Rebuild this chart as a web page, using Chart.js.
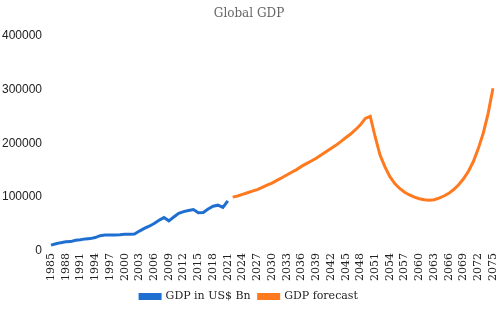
<!DOCTYPE html>
<html>
<head>
  <title>Global GDP</title>
  <script src="https://cdn.jsdelivr.net/npm/chart.js"></script>
  <style>
    body {
      margin: 0;
      background-color: #fff;
    }
    .chart-box {
      width: 498px;
      height: 309px;
    }
  </style>
</head>
<body>
  <div class="chart-box">
    <canvas id="gdpChart"></canvas>
  </div>

  <script>
    const firstYear = 1985;
    const lastYear = 2075;

    // GDP in US$ Bn, 1985 - 2021
    const gdpActual = [
      11000, 13500, 15500, 17000, 17500, 20000, 21000, 22500, 23000, 25000,
      28500, 29500, 29500, 29500, 30000, 31000, 31000, 31500, 37000, 42000,
      46000, 51000, 57000, 62000, 56000, 63000, 70000, 73000, 75000, 77000,
      71000, 71500, 78000, 83000, 85000, 81000, 93000
    ];

    // GDP forecast, 2022 - 2075
    const gdpForecast = [
      100000, 102000, 105000, 108000, 111000, 114000, 118000, 122000, 126000, 131000,
      136000, 141000, 146000, 151000, 157000, 162000, 167000, 172000, 178000, 184000,
      190000, 196000, 203000, 210000, 217000, 225000, 234000, 246000, 250000, 212000,
      178000, 156000, 138000, 125000, 116000, 109000, 104000, 100000, 97000, 95000,
      94000, 95000, 98000, 102000, 107000, 114000, 123000, 134000, 148000, 166000,
      190000, 218000, 255000, 302000
    ];

    const years = [];
    for (let y = firstYear; y <= lastYear; y++) years.push(String(y));

    const actualData = gdpActual.concat(new Array(years.length - gdpActual.length).fill(null));
    const forecastData = new Array(gdpActual.length).fill(null).concat(gdpForecast);

    const blue = '#1f6fd0';
    const orange = '#ff7a1f';

    const ctx = document.getElementById('gdpChart').getContext('2d');
    new Chart(ctx, {
      type: 'line',
      data: {
        labels: years,
        datasets: [{
          label: 'GDP in US$ Bn',
          data: actualData,
          borderColor: blue,
          backgroundColor: blue,
          borderWidth: 3,
          pointRadius: 0,
          tension: 0,
          fill: false
        }, {
          label: 'GDP forecast',
          data: forecastData,
          borderColor: orange,
          backgroundColor: orange,
          borderWidth: 3,
          pointRadius: 0,
          tension: 0,
          fill: false
        }]
      },
      options: {
        responsive: true,
        maintainAspectRatio: false,
        animation: false,
        layout: {
          padding: { left: 2, right: 2, top: 4, bottom: -3 }
        },
        scales: {
          x: {
            grid: { display: false, drawTicks: false },
            border: { display: false },
            afterFit: function(scale) {
              // keep the plot running almost to the right edge
              scale.paddingLeft = 0;
              scale.paddingRight = 5;
            },
            ticks: {
              autoSkip: false,
              maxRotation: 90,
              minRotation: 90,
              padding: 2,
              color: '#222',
              font: { family: 'DejaVu Serif', size: 11 },
              callback: function(value, index) {
                return (index % 3 === 0) ? years[index] : '';
              }
            }
          },
          y: {
            min: 0,
            max: 400000,
            grid: { display: false, drawTicks: false },
            border: { display: false },
            afterFit: function(scale) {
              scale.width = 49;
            },
            ticks: {
              stepSize: 100000,
              padding: 9,
              color: '#222',
              font: { family: 'Liberation Sans', size: 12 },
              callback: function(value) {
                return String(value); // no thousands separators
              }
            }
          }
        },
        plugins: {
          title: {
            display: true,
            text: 'Global GDP',
            color: '#666',
            font: { family: 'DejaVu Serif', size: 12, weight: 'normal' },
            padding: { top: 3, bottom: 14 }
          },
          legend: {
            position: 'bottom',
            labels: {
              boxWidth: 20,
              boxHeight: 4,
              color: '#222',
              font: { family: 'DejaVu Serif', size: 11 },
              padding: 8
            }
          },
          tooltip: { enabled: false }
        }
      }
    });
  </script>
</body>
</html>
